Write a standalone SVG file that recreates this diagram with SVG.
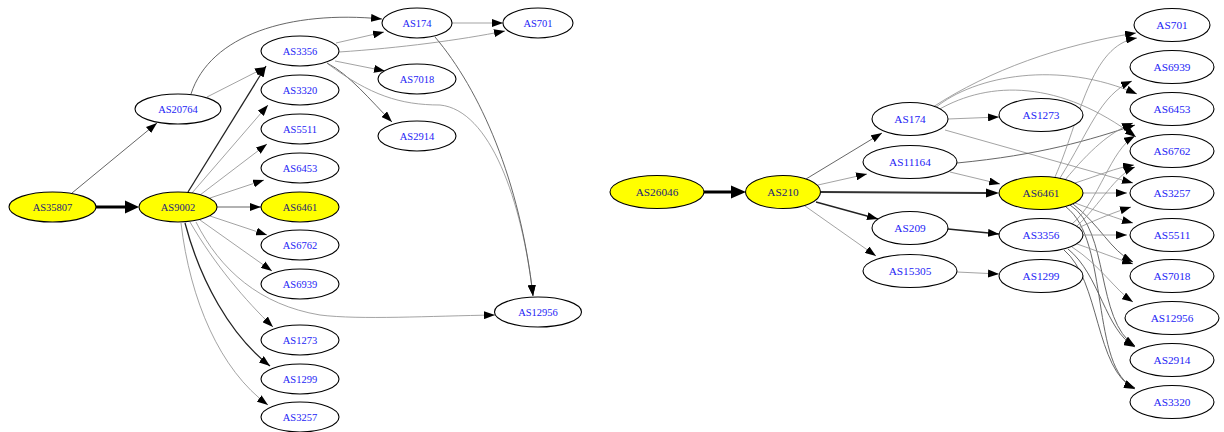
<svg xmlns="http://www.w3.org/2000/svg" width="1224" height="432" viewBox="0 0 1224 432">
<defs>
<marker id="ah" viewBox="0 0 11 8" markerWidth="11" markerHeight="8" refX="11" refY="4" orient="auto" markerUnits="userSpaceOnUse"><path d="M0,0L11,4L0,8z" fill="#000"/></marker>
<style>
.n ellipse{fill:#fff;stroke:#000;stroke-width:1.1}
.y ellipse{fill:#ffff00}
.n text{font-family:"Liberation Serif","Times New Roman",serif;fill:#2323f5;text-anchor:middle}
.y text{fill:#1c1c78}
.L text{font-size:10.5px}
.R text{font-size:11.3px}
.e path{fill:none;stroke:#929292;stroke-width:0.85;marker-end:url(#ah)}
.e path.m{stroke:#5e5e5e;stroke-width:0.95}
.e path.d{stroke:#222;stroke-width:1.3}
.e .t{fill:none;stroke:#000;stroke-width:3}
.e .t2{fill:none;stroke:#333;stroke-width:2}
</style>
</defs>
<rect width="1224" height="432" fill="#fff"/>
<g id="edges" class="e">
<!-- left graph -->
<line class="t" x1="96" y1="207" x2="126" y2="207"/>
<polygon points="125,200.5 139,207 125,213.5" fill="#000"/>
<path class="m" d="M72,193 L157,123"/>
<path d="M207,97 L266,67"/>
<path class="m" d="M191,94 C210,35 290,10 382,19"/>
<path class="d" d="M188,192 L266,66"/>
<path d="M192,193 L268,105"/>
<path d="M200,195 L267,144"/>
<path d="M210,198 L264,180"/>
<path class="m" d="M217,207 L261,207"/>
<path d="M210,216 L267,235"/>
<path d="M200,220 L272,271"/>
<path d="M196,222 C220,270 260,305 320,315 C360,320 430,316 495,315"/>
<path d="M190,222 C215,265 245,300 273,327"/>
<path class="d" d="M185,223 C200,280 230,335 270,366"/>
<path d="M181,223 C190,300 220,370 268,405"/>
<path d="M336,43 L384,32"/>
<path d="M339,52 C400,48 460,40 505,31"/>
<path d="M452,23 L503,23"/>
<path d="M335,61 L385,71"/>
<path class="m" d="M327,63 C350,75 370,100 392,122"/>
<path d="M328,64 C370,95 400,105 440,105 C490,110 522,200 533,296"/>
<path class="m" d="M435,37 C480,90 520,180 533,296"/>
<!-- right graph -->
<line class="t" x1="704" y1="192" x2="732" y2="192"/>
<polygon points="731,185.5 746,192 731,198.5" fill="#000"/>
<path class="m" d="M806,179 L882,133"/>
<path d="M818,185 L867,174"/>
<line class="t2" x1="821" y1="192" x2="987" y2="193"/>
<polygon points="986,188.5 999,193 986,197.5" fill="#000"/>
<path class="d" d="M816,202 L878,219"/>
<path d="M805,206 L876,256"/>
<path d="M948,119 L999,117"/>
<path d="M933,107 C990,70 1060,45 1136,33"/>
<path d="M935,108 C975,75 1060,60 1137,94"/>
<path d="M938,110 C990,80 1060,80 1136,137"/>
<path d="M945,130 L1133,183"/>
<path d="M950,172 L1000,184"/>
<path class="m" d="M957,163 C1040,155 1090,140 1135,125"/>
<path class="d" d="M948,229 L999,234"/>
<path d="M957,272 L999,274"/>
<path d="M1055,177 C1080,120 1090,45 1137,38"/>
<path d="M1060,178 C1090,130 1100,95 1132,81"/>
<path d="M1065,180 C1090,150 1110,132 1133,123"/>
<path d="M1075,183 C1100,175 1115,168 1134,165"/>
<path d="M1083,193 L1127,193"/>
<path d="M1075,203 C1100,212 1115,218 1133,223"/>
<path class="m" d="M1073,204 C1100,225 1110,250 1133,262"/>
<path class="m" d="M1070,205 C1110,230 1095,320 1135,346"/>
<path class="m" d="M1066,207 C1110,240 1090,370 1135,388"/>
<path d="M1072,224 C1100,200 1110,150 1135,136"/>
<path d="M1077,226 C1100,205 1115,175 1135,167"/>
<path d="M1078,228 C1100,218 1115,212 1131,207"/>
<path d="M1083,235 L1127,235"/>
<path d="M1077,244 C1100,252 1115,258 1133,264"/>
<path d="M1072,247 C1100,265 1115,290 1133,302"/>
<path class="m" d="M1068,249 C1100,275 1105,330 1135,347"/>
<path class="m" d="M1064,250 C1100,280 1095,370 1135,389"/>
</g>
<g id="AS35807" class="n y L"><ellipse cx="52.5" cy="207" rx="43.5" ry="15"/><text x="52.5" y="210.5">AS35807</text></g>
<g id="AS9002" class="n y L"><ellipse cx="178" cy="207" rx="39" ry="15"/><text x="178" y="210.5">AS9002</text></g>
<g id="AS20764" class="n L"><ellipse cx="178" cy="109" rx="43" ry="15"/><text x="178" y="112.5">AS20764</text></g>
<g id="L_AS3356" class="n L"><ellipse cx="300" cy="51" rx="39" ry="15"/><text x="300" y="54.5">AS3356</text></g>
<g id="L_AS3320" class="n L"><ellipse cx="300" cy="90" rx="39" ry="15"/><text x="300" y="93.5">AS3320</text></g>
<g id="L_AS5511" class="n L"><ellipse cx="300" cy="129" rx="39" ry="15"/><text x="300" y="132.5">AS5511</text></g>
<g id="L_AS6453" class="n L"><ellipse cx="300" cy="168" rx="39" ry="15"/><text x="300" y="171.5">AS6453</text></g>
<g id="L_AS6461" class="n y L"><ellipse cx="300" cy="207" rx="39" ry="15"/><text x="300" y="210.5">AS6461</text></g>
<g id="L_AS6762" class="n L"><ellipse cx="300" cy="245" rx="39" ry="15"/><text x="300" y="248.5">AS6762</text></g>
<g id="L_AS6939" class="n L"><ellipse cx="300" cy="284" rx="39" ry="15"/><text x="300" y="287.5">AS6939</text></g>
<g id="L_AS1273" class="n L"><ellipse cx="300" cy="340" rx="39" ry="15"/><text x="300" y="343.5">AS1273</text></g>
<g id="L_AS1299" class="n L"><ellipse cx="300" cy="379" rx="39" ry="15"/><text x="300" y="382.5">AS1299</text></g>
<g id="L_AS3257" class="n L"><ellipse cx="300" cy="417" rx="39" ry="15"/><text x="300" y="420.5">AS3257</text></g>
<g id="L_AS174" class="n L"><ellipse cx="417" cy="23" rx="35" ry="15"/><text x="417" y="26.5">AS174</text></g>
<g id="L_AS701" class="n L"><ellipse cx="538" cy="23" rx="35" ry="15"/><text x="538" y="26.5">AS701</text></g>
<g id="L_AS7018" class="n L"><ellipse cx="417" cy="79" rx="39" ry="15"/><text x="417" y="82.5">AS7018</text></g>
<g id="L_AS2914" class="n L"><ellipse cx="417" cy="136" rx="39" ry="15"/><text x="417" y="139.5">AS2914</text></g>
<g id="L_AS12956" class="n L"><ellipse cx="538" cy="312" rx="43.5" ry="15"/><text x="538" y="315.5">AS12956</text></g>
<g id="AS26046" class="n y R"><ellipse cx="657" cy="192" rx="47" ry="16.5"/><text x="657" y="196">AS26046</text></g>
<g id="AS210" class="n y R"><ellipse cx="783" cy="192" rx="37.5" ry="16.5"/><text x="783" y="196">AS210</text></g>
<g id="R_AS174" class="n R"><ellipse cx="910" cy="119" rx="38" ry="16.5"/><text x="910" y="123">AS174</text></g>
<g id="AS11164" class="n R"><ellipse cx="910" cy="162" rx="47" ry="16.5"/><text x="910" y="166">AS11164</text></g>
<g id="AS209" class="n R"><ellipse cx="910" cy="228" rx="38" ry="16.5"/><text x="910" y="232">AS209</text></g>
<g id="AS15305" class="n R"><ellipse cx="910" cy="271" rx="47" ry="16.5"/><text x="910" y="275">AS15305</text></g>
<g id="R_AS1273" class="n R"><ellipse cx="1041" cy="115" rx="42" ry="16.5"/><text x="1041" y="119">AS1273</text></g>
<g id="R_AS6461" class="n y R"><ellipse cx="1041" cy="193" rx="42" ry="16.5"/><text x="1041" y="197">AS6461</text></g>
<g id="R_AS3356" class="n R"><ellipse cx="1041" cy="235" rx="42" ry="16.5"/><text x="1041" y="239">AS3356</text></g>
<g id="R_AS1299" class="n R"><ellipse cx="1041" cy="276" rx="42" ry="16.5"/><text x="1041" y="280">AS1299</text></g>
<g id="R_AS701" class="n R"><ellipse cx="1172" cy="25" rx="38" ry="16.5"/><text x="1172" y="29">AS701</text></g>
<g id="R_AS6939" class="n R"><ellipse cx="1172" cy="67" rx="42" ry="16.5"/><text x="1172" y="71">AS6939</text></g>
<g id="R_AS6453" class="n R"><ellipse cx="1172" cy="109" rx="42" ry="16.5"/><text x="1172" y="113">AS6453</text></g>
<g id="R_AS6762" class="n R"><ellipse cx="1172" cy="151" rx="42" ry="16.5"/><text x="1172" y="155">AS6762</text></g>
<g id="R_AS3257" class="n R"><ellipse cx="1172" cy="193" rx="42" ry="16.5"/><text x="1172" y="197">AS3257</text></g>
<g id="R_AS5511" class="n R"><ellipse cx="1172" cy="235" rx="42" ry="16.5"/><text x="1172" y="239">AS5511</text></g>
<g id="R_AS7018" class="n R"><ellipse cx="1172" cy="276" rx="42" ry="16.5"/><text x="1172" y="280">AS7018</text></g>
<g id="R_AS12956" class="n R"><ellipse cx="1172" cy="318" rx="47" ry="16.5"/><text x="1172" y="322">AS12956</text></g>
<g id="R_AS2914" class="n R"><ellipse cx="1172" cy="360" rx="42" ry="16.5"/><text x="1172" y="364">AS2914</text></g>
<g id="R_AS3320" class="n R"><ellipse cx="1172" cy="402" rx="42" ry="16.5"/><text x="1172" y="406">AS3320</text></g>
</svg>
